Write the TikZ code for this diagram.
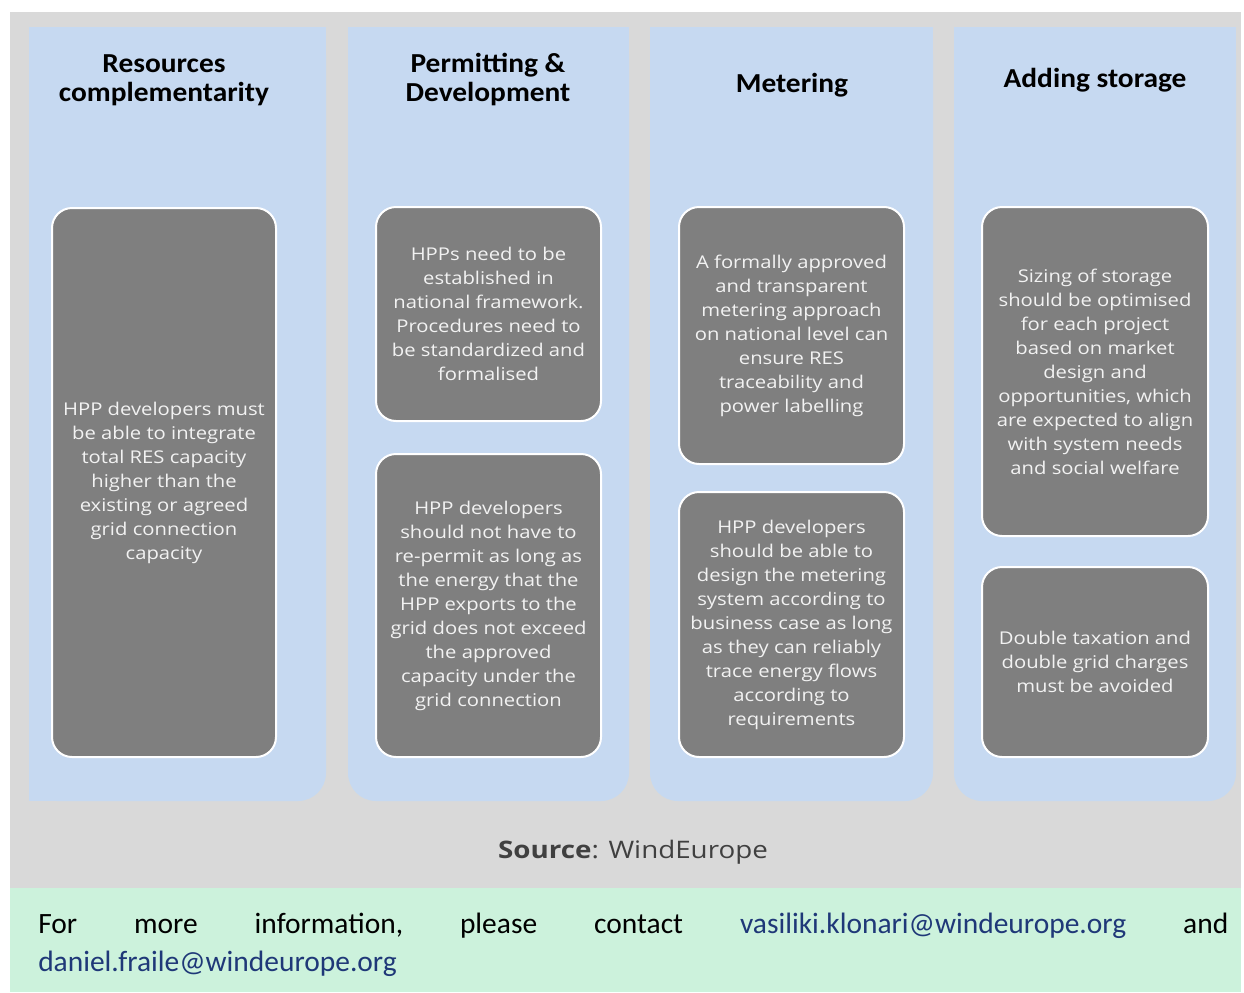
\documentclass[tikz,border=0pt]{standalone}
\usepackage{fontspec}
\setmainfont{Open Sans}
\newfontfamily\boxfont[FakeStretch=1.15]{Open Sans}
\newfontfamily\headfont[FakeStretch=1.07]{Carlito}
\newfontfamily\footfont{Carlito}

\definecolor{panelgray}{RGB}{217,217,217}
\definecolor{colblue}{RGB}{198,217,241}
\definecolor{boxgray}{RGB}{127,127,127}
\definecolor{boxtext}{RGB}{242,242,242}
\definecolor{footgreen}{RGB}{204,242,220}
\definecolor{srctext}{RGB}{64,64,64}
\definecolor{maillink}{RGB}{31,56,120}

\begin{document}
\begin{tikzpicture}[x=0.75pt, y=-0.75pt,
    issue/.style={draw=white, line width=1.5pt, fill=boxgray, rounded corners=15pt,
        text=boxtext, align=center, inner sep=0pt,
        font=\boxfont\fontsize{13.2}{18}\selectfont},
    colhead/.style={align=center, anchor=base,
        font=\headfont\bfseries\fontsize{20.6}{21.75}\selectfont}]

    \useasboundingbox (0,0) rectangle (1244,992);
    \fill[white] (0,0) rectangle (1244,992);

    % panel and contact strip
    \fill[panelgray] (10,12) rectangle (1241,888);
    \fill[footgreen] (10,888) rectangle (1241,992);

    % four columns, only the lower corners rounded
    \foreach \xa/\xb in {29/326, 348/629, 650/933, 954/1236} {
        \fill[colblue, rounded corners=21pt] (\xa,27) rectangle (\xb,801);
        \fill[colblue] (\xa,27) rectangle (\xb,400);
    }
    \fill[colblue] (29,400) rectangle (100,801);

    % column headings (base = last line)
    \node[colhead] (resources) at (164,101) {Resources\\complementarity};
    \node[colhead] (permitting) at (488,101) {Permitting \&\\Development};
    \node[colhead] (metering) at (792,92) {Metering};
    \node[colhead] (storage) at (1095,87) {Adding storage};

    % issue boxes
    \node[issue, minimum width=168pt, minimum height=411.75pt] (integrate) at (164,482.5)
        {HPP developers must\\be able to integrate\\total RES capacity\\higher than the\\existing or agreed\\grid connection\\capacity};

    \node[issue, minimum width=168.75pt, minimum height=160.5pt] (framework) at (488.5,314)
        {HPPs need to be\\established in\\national framework.\\Procedures need to\\be standardized and\\formalised};
    \node[issue, minimum width=168.75pt, minimum height=227.25pt] (repermit) at (488.5,605.5)
        {HPP developers\\should not have to\\re-permit as long as\\the energy that the\\HPP exports to the\\grid does not exceed\\the approved\\capacity under the\\grid connection};

    \node[issue, minimum width=168.75pt, minimum height=192.75pt] (approach) at (791.5,335.5)
        {A formally approved\\and transparent\\metering approach\\on national level can\\ensure RES\\traceability and\\power labelling};
    \node[issue, minimum width=168.75pt, minimum height=198.75pt] (design) at (791.5,624.5)
        {HPP developers\\should be able to\\design the metering\\system according to\\business case as long\\as they can reliably\\trace energy flows\\according to\\requirements};

    \node[issue, minimum width=169.5pt, minimum height=246.75pt] (sizing) at (1095,371.5)
        {Sizing of storage\\should be optimised\\for each project\\based on market\\design and\\opportunities, which\\are expected to align\\with system needs\\and social welfare};
    \node[issue, minimum width=169.5pt, minimum height=142.5pt] (taxation) at (1095,662)
        {Double taxation and\\double grid charges\\must be avoided};

    % source line
    \node[anchor=base, text=srctext, font=\boxfont\fontsize{18.1}{22}\selectfont] (source) at (633,858)
        {\textbf{Source}: WindEurope};

    % contact text
    \node[anchor=base west, text width=892.5pt, align=left, inner sep=0pt,
        font=\footfont\fontsize{22.1}{28.5}\selectfont] (contact) at (38,933)
        {For\hfill more\hfill information,\hfill please\hfill contact\hfill
         \textcolor{maillink}{vasiliki.klonari@windeurope.org}\hfill and\\
         \textcolor{maillink}{daniel.fraile@windeurope.org}};
\end{tikzpicture}
\end{document}
